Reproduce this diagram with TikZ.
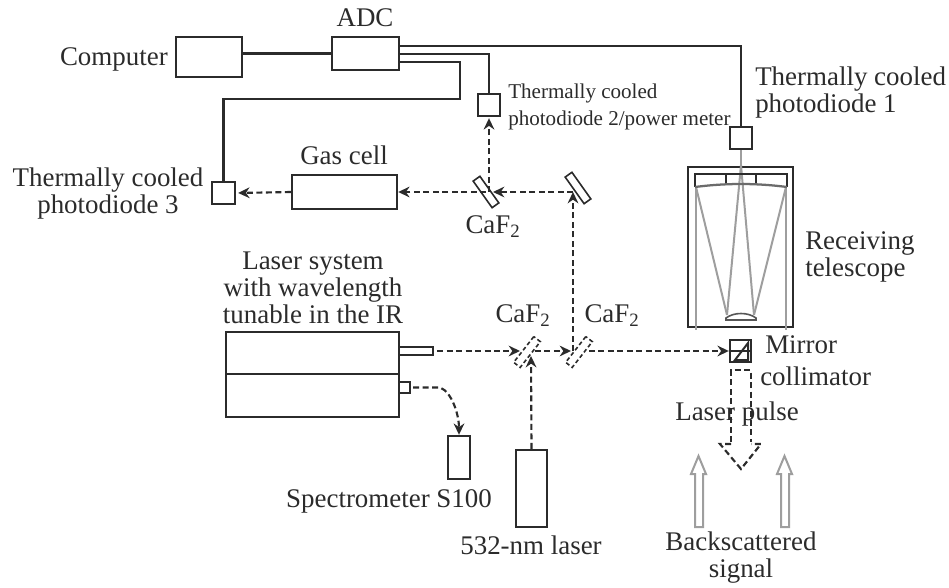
\documentclass[tikz,border=0pt]{standalone}
\usepackage{fontspec}
\setmainfont{Liberation Serif}
\usetikzlibrary{arrows.meta, positioning, calc, shapes.geometric}
\definecolor{ink}{gray}{0.17}
\definecolor{raygray}{gray}{0.62}
\tikzset{
  unitbox/.style 2 args={rectangle, draw=ink, line width=1.8pt, fill=white, inner sep=0pt, minimum width=#1*0.75pt, minimum height=#2*0.75pt},
  mirrorbox/.style={rectangle, draw=ink, line width=1.2pt, fill=none, inner sep=0pt, minimum width=24.5pt, minimum height=6.2pt},
  splitbox/.style={mirrorbox, densely dashed},
  wire/.style={draw=ink, line width=1.7pt},
  beam/.style={draw=ink, line width=1.6pt, dash pattern=on 4.5pt off 2.6pt, -{Stealth[length=8.5pt, width=8pt]}},
  beamend/.style={draw=ink, line width=1.6pt, dash pattern=on 4.5pt off 2.6pt},
  ray/.style={draw=raygray, line width=1.5pt},
  hollow/.style={draw=raygray, line width=1.5pt, fill=white},
  caption/.style={inner sep=0pt, text=ink, font=\fontsize{20.2}{20.25}\selectfont},
  smallcaption/.style={inner sep=0pt, text=ink, font=\fontsize{15.8}{20.5}\selectfont}
}
\begin{document}
\begin{tikzpicture}[x=0.75pt, y=-0.75pt]
\useasboundingbox (0,0) rectangle (949,588);

% Electronics and detectors
\node[unitbox={66}{40}] (computer) at (209,57) {};
\node[unitbox={67}{33}] (adc) at (365.5,53.5) {};
\node[unitbox={22}{22}] (pdA) at (741,138) {};
\node[unitbox={22}{22}] (pdB) at (489,105) {};
\node[unitbox={23}{22}] (pdC) at (223.5,193) {};
\node[unitbox={105}{34}] (gas) at (344.5,192) {};

% Lasers
\node[unitbox={173}{42}] (laserTop) at (312.5,353) {};
\node[unitbox={173}{43}] (laserBottom) at (312.5,395.5) {};
\node[unitbox={34}{8}] (stubA) at (416,351) {};
\node[unitbox={11}{11}] (stubB) at (404.5,387.5) {};
\node[unitbox={22}{43}] (spec) at (459,457.5) {};
\node[unitbox={31}{77}] (green) at (531.5,488.5) {};

% Mirrors
\node[mirrorbox, rotate=-54.6] (mirA) at (486,192) {};
\node[mirrorbox, rotate=-54.6] (mirB) at (578,188) {};
\node[splitbox, rotate=52] (mirC) at (527,352) {};
\node[splitbox, rotate=52] (mirD) at (579,352) {};

% Wires from the ADC
\coordinate (adcA) at (399,46);
\coordinate (adcB) at (399,54);
\coordinate (adcC) at (399,62);
\coordinate (bendC) at (460,99);
\draw[wire] (adc.west) -- (adc.west -| computer.east);
\draw[wire] (adcA) -| (pdA.north);
\draw[wire] (adcB) -| (pdB.north);
\draw[wire] (adcC) -| (bendC) -| (pdC.north);

% Telescope
\node[unitbox={105}{160}, fill=none] (scope) at (740.5,247) {};
\draw[ray] (696,187) -- (696,330);
\draw[ray] (786,187) -- (786,330);
\draw[ray] (696,187) -- (727,315);
\draw[ray] (786,187) -- (754,315);
\draw[ray] (727,315) -- (741,165);
\draw[ray] (754,315) -- (741,165);
\draw[ray] (741,165) -- (pdA.south);
\draw[draw=ink, line width=1.3pt] (695,187) -- (695,174) -- (787,174) -- (787,187);
\draw[draw=ink, line width=1.3pt] (726,174) -- (726,184);
\draw[draw=ink, line width=1.3pt] (756,174) -- (756,184);
\draw[draw=ink!70, line width=1.7pt] (695,187) .. controls (726,183) and (756,183) .. (787,187);
\draw[draw=ink!80, line width=1.2pt] (726,320) -- (756,320) -- (756,318) .. controls (748,312) and (734,312) .. (726,318) -- cycle;

% Mirror in front of the telescope
\node[unitbox={21}{22}] (fold) at (740.5,351) {};
\draw[draw=ink, line width=1.1pt] (fold.west) -- (fold.east);
\draw[draw=ink, line width=1.5pt] (735,360) -- (748,343) -- (748,360) -- cycle;

% Beam paths
\coordinate (turnB) at (573,192);
\coordinate (turnD) at (573,351);
\draw[beam] (turnB) -- ($(mirA.center)+(7,0)$);
\draw[beam] (mirA.center) -- (gas.east);
\draw[beam] (gas.west) -- ($(pdC.east)+(2,0)$);
\draw[beam] (pdB.south |- mirA.center) -- ($(pdB.south)+(0,1)$);
\draw[beam] (turnD) -- (turnB);
\draw[beam] (stubA.east) ++(3,0) -- ($(mirC.center)+(-7,-1)$);
\draw[beam] ($(mirC.center)+(8,-1)$) -- ($(mirD.center)+(-8,-1)$);
\draw[beam] ($(mirD.center)+(10,-1)$) -- (fold.west);
\draw[beam] (green.north) -- ($(mirC.center)+(4,4)$);
\draw[beam] (stubB.east) ++(2,0) -- (440,387.5) .. controls (452,392) and (459,415) .. (spec.north);

% Outgoing pulse
\draw[beamend] (731,442) -- (731,370) -- (751,370) -- (751,442);
\draw[beamend] (731,444) -- (720,444) -- (741,469) -- (761,444) -- (751,444);

% Returning signal
\draw[hollow] (695,527) -- (695,474) -- (691,474) -- (698.5,456) -- (706,474) -- (703,474) -- (703,527) -- cycle;
\draw[hollow] (781,527) -- (781,474) -- (777,474) -- (784.5,456) -- (792,474) -- (789,474) -- (789,527) -- cycle;

% Labels
\node[caption, anchor=east] (computerLabel) at (168,59) {Computer};
\node[caption] (adcLabel) at (365,18) {ADC};
\node[caption, anchor=west, align=left] (pdALabel) at (755,93) {Thermally cooled\\photodiode 1};
\node[smallcaption, anchor=west, align=left] (pdBLabel) at (508,107) {Thermally cooled\\photodiode 2/power meter};
\node[caption, align=center] (pdCLabel) at (108,194) {Thermally cooled\\photodiode 3};
\node[caption] (gasLabel) at (344,155) {Gas cell};
\node[caption] (mirALabel) at (493,227) {CaF\textsubscript{2}};
\node[caption] (mirCLabel) at (523,316) {CaF\textsubscript{2}};
\node[caption] (mirDLabel) at (612,316) {CaF\textsubscript{2}};
\node[caption, align=center] (laserLabel) at (313,288) {Laser system\\with wavelength\\tunable in the IR};
\node[caption, align=left, anchor=west] (scopeLabel) at (805,257) {Receiving\\telescope};
\node[caption, anchor=west] (foldLabelA) at (765,345) {Mirror};
\node[caption, anchor=west] (foldLabelB) at (760,376) {collimator};
\node[caption] (pulseLabel) at (737,414) {Laser pulse};
\node[caption] (specLabel) at (389,501) {Spectrometer S100};
\node[caption] (greenLabel) at (531,545) {532-nm laser};
\node[caption, align=center] (signalLabel) at (741,558) {Backscattered\\signal};
\end{tikzpicture}
\end{document}
